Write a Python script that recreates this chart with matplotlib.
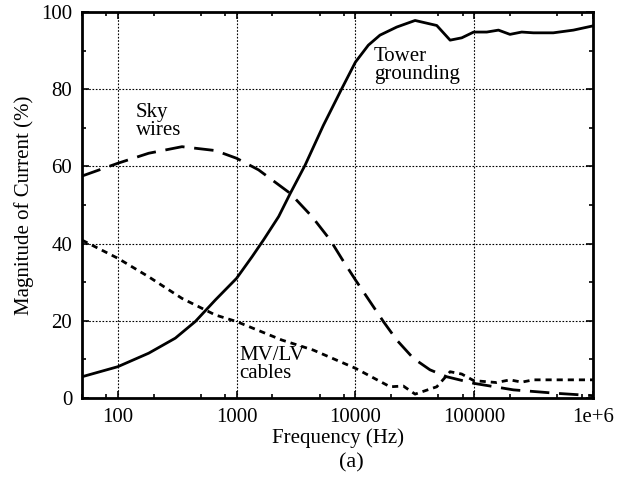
import numpy as np
import matplotlib
matplotlib.use("Agg")
import matplotlib.pyplot as plt
from matplotlib.ticker import FixedLocator, LogLocator, NullFormatter

plt.rcParams['font.family'] = ['Liberation Serif', 'DejaVu Serif']
plt.rcParams['font.size'] = 15

# Tower grounding (solid)
tower_f = [50, 100, 182, 305, 449, 663, 1000, 1350, 1690, 2260, 2830, 3770,
           5370, 7670, 10000, 12850, 16100, 22300, 31800, 48400, 62700,
           78500, 99000, 127600, 160000, 200000, 251000, 315000, 463000,
           684000, 1000000]
tower_v = [5.5, 8.1, 11.6, 15.5, 19.8, 25.4, 31.0, 36.6, 41.0, 47.0, 53.0, 60.3,
           70.6, 80.1, 87.0, 91.4, 94.0, 96.1, 97.8, 96.5, 92.7,
           93.3, 94.8, 94.8, 95.3, 94.2, 94.8, 94.6, 94.6,
           95.3, 96.4]

# Sky wires (long dashes)
sky_f = [50, 100, 182, 347, 663, 1000, 1530, 2830, 4310, 6150, 7710, 10000,
         17200, 22300, 30700, 42400, 58700, 99000, 214000, 495000, 1000000]
sky_v = [57.5, 60.8, 63.4, 65.1, 64.1, 62.1, 59.1, 53.0, 47.0, 40.9, 36.0, 30.6,
         19.8, 15.0, 10.3, 7.3, 5.5, 3.8, 2.1, 1.2, 0.6]

# MV/LV cables (short dashes)
cab_f = [50, 100, 182, 347, 663, 1000, 2410, 4430, 10000, 19600, 25300, 31800,
         48400, 62700, 78500, 99000, 154000, 200000, 251000, 315000, 1000000]
cab_v = [40.9, 36.2, 31.4, 25.8, 21.5, 19.8, 15.0, 12.4, 7.7, 2.9, 3.1, 1.0,
         2.9, 6.8, 6.2, 4.5, 4.0, 4.7, 4.1, 4.7, 4.7]

xticks = [100, 1000, 10000, 100000, 1000000]
xticklabels = ["100", "1000", "10000", "100000", "1e+6"]

fig = plt.figure(figsize=(6.27, 4.87), dpi=100)
ax = fig.add_axes([0.1308, 0.1828, 0.815, 0.7926])

ax.plot(tower_f, tower_v, color="black", lw=2)
ax.plot(sky_f, sky_v, color="black", lw=2, dashes=(7, 3.5))
ax.plot(cab_f, cab_v, color="black", lw=2, dashes=(2.2, 1.8))

ax.set_xscale("log")
ax.set_xlim(50, 1e6)
ax.set_ylim(0, 100)
ax.xaxis.set_major_locator(FixedLocator(xticks))
ax.set_xticklabels(xticklabels)
ax.xaxis.set_minor_locator(LogLocator(base=10, subs=(2, 5, 8)))
ax.xaxis.set_minor_formatter(NullFormatter())
ax.set_yticks([0, 20, 40, 60, 80, 100])
ax.set_yticks([10, 30, 50, 70, 90], minor=True)

ax.grid(True, which="major", color="black", linestyle=(0, (1.5, 1.5)), lw=0.8)
ax.tick_params(which="both", direction="in", top=True, right=True, width=1.2)
ax.tick_params(which="major", length=5, pad=7)
ax.tick_params(which="minor", length=3)
for s in ax.spines.values():
    s.set_linewidth(2)

ax.set_xlabel("Frequency (Hz)", labelpad=1)
ax.set_ylabel("Magnitude of Current (%)", labelpad=5)

ax.text(142, 76.5, "Sky\nwires", ha="left", va="top", linespacing=0.95)
ax.text(14300, 91.0, "Tower\ngrounding", ha="left", va="top", linespacing=0.95)
ax.text(1050, 13.5, "MV/LV\ncables", ha="left", va="top", linespacing=0.95)

fig.text(0.561, 0.049, "(a)", ha="center", va="center", fontsize=16)

fig.savefig("out.png", dpi=100)
